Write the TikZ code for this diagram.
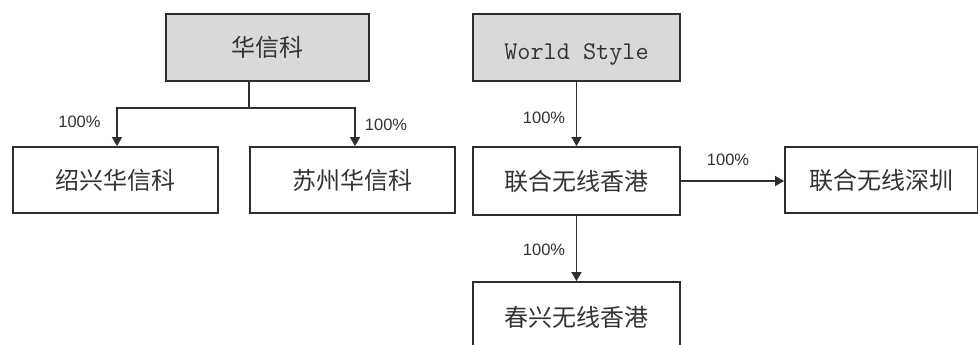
\documentclass[tikz,border=0pt]{standalone}
\usepackage{fontspec}
\newfontfamily\cjk{Noto Sans CJK SC}
\newfontfamily\labfont{Liberation Sans}
\usetikzlibrary{arrows.meta}
\definecolor{boxgray}{HTML}{D9D9D9}
\definecolor{linecol}{HTML}{2E2E2E}
\tikzset{
  org/.style={draw=linecol, line width=1.8pt, inner sep=0pt, anchor=center,
    font=\cjk\fontsize{24}{27}\selectfont, text=black!80},
  topbox/.style={org, fill=boxgray},
  conn/.style={draw=linecol, line width=1.4pt},
  arr/.style={conn, -{Triangle[width=10pt,length=9pt]}},
  pct/.style={font=\labfont\fontsize{16.5}{18}\selectfont, text=black!80, inner sep=0pt}
}
\begin{document}
\begin{tikzpicture}[x=1pt,y=-1pt]
\useasboundingbox (0,0) rectangle (978,345);
\node[topbox, minimum width=203pt, minimum height=67pt] (hxk) at (267.5,47.5) {华信科};
\node[org, minimum width=205pt, minimum height=66pt] (sx) at (115.5,180) {绍兴华信科};
\node[org, minimum width=205pt, minimum height=66pt] (sz) at (352.5,180) {苏州华信科};
\node[topbox, minimum width=207pt, minimum height=67pt, font=\ttfamily\fontsize{25.5}{28}\selectfont] (ws) at (576.5,47.5) {\raisebox{-12pt}[0pt][0pt]{World Style}};
\node[org, minimum width=207pt, minimum height=68pt] (lh) at (576.5,181) {联合无线香港};
\node[org, minimum width=193pt, minimum height=66pt] (lsz) at (881.5,180) {联合无线深圳};
\node[org, minimum width=207pt, minimum height=70pt] (cx) at (576.5,317) {春兴无线香港};
\coordinate (j) at (249,108);
\draw[conn] (hxk.south -| j) -- (j);
\draw[arr] (j) -| (sx.north -| 117,0);
\draw[arr] (j) -| (sz.north -| 355,0);
\draw[arr] (ws.south) -- (lh.north);
\draw[arr] (lh.east) -- (lh.east -| lsz.west);
\draw[arr] (lh.south) -- (cx.north);
\node[pct] (p1) at (79.5,121.5) {100\%};
\node[pct] (p2) at (386,125) {100\%};
\node[pct] (p3) at (544,118) {100\%};
\node[pct] (p4) at (728,160) {100\%};
\node[pct] (p5) at (544,250) {100\%};
\end{tikzpicture}
\end{document}
